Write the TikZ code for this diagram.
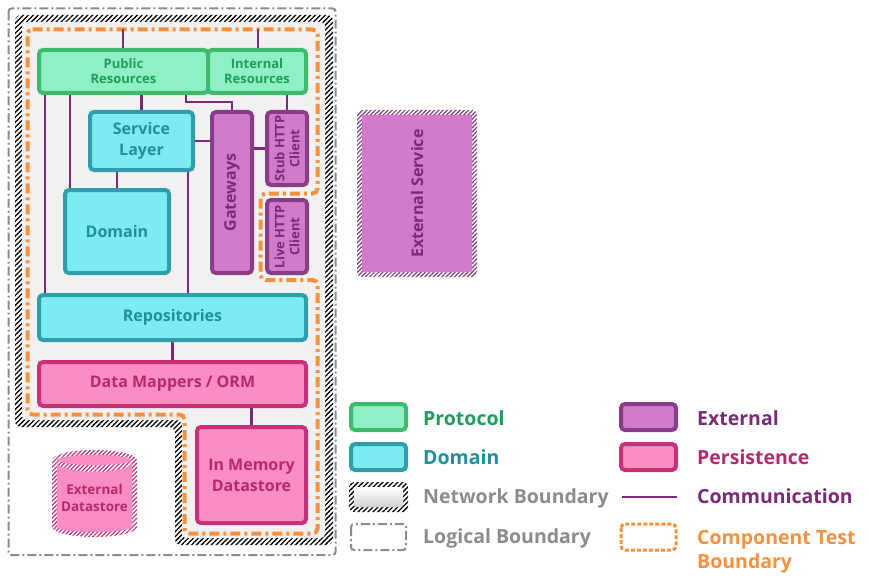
\documentclass[tikz,border=0pt]{standalone}
\usepackage{fontspec}
\setmainfont{Open Sans}
\usetikzlibrary{patterns.meta,backgrounds}

\definecolor{protofill}{HTML}{8FF0C6}
\definecolor{protoline}{HTML}{3DBA6C}
\definecolor{prototext}{HTML}{1E9E5A}
\definecolor{domfill}{HTML}{7DEBF2}
\definecolor{domline}{HTML}{2E9FAA}
\definecolor{domtext}{HTML}{1D919C}
\definecolor{extfill}{HTML}{D27BCB}
\definecolor{extline}{HTML}{8A3D87}
\definecolor{exttext}{HTML}{7A2B78}
\definecolor{perfill}{HTML}{FA8DC1}
\definecolor{perline}{HTML}{C7307B}
\definecolor{pertext}{HTML}{B8286F}
\definecolor{commline}{HTML}{7B2A79}
\definecolor{ctbline}{HTML}{F8903C}
\definecolor{logline}{HTML}{8C8C8C}
\definecolor{netfill}{HTML}{F1F1F1}

\begin{document}
\begin{tikzpicture}
[x=1pt,y=-1pt,%
  box/.style={draw,line width=4pt,rounded corners=4pt,inner sep=0pt,align=center},%
  big/.style={font=\bfseries\fontsize{16}{21}\selectfont},%
  small/.style={font=\bfseries\fontsize{13}{15}\selectfont},%
  proto/.style={box,draw=protoline,fill=protofill,text=prototext},%
  dom/.style={box,draw=domline,fill=domfill,text=domtext},%
  ext/.style={box,draw=extline,fill=extfill,text=exttext},%
  pers/.style={box,draw=perline,fill=perfill,text=pertext},%
  comm/.style={draw=commline,line width=2.5pt},%
  ctb/.style={draw=ctbline,line width=4pt,rounded corners=5pt,dash pattern=on 10pt off 4pt on 3pt off 4pt},%
  logb/.style={draw=logline,line width=2pt,rounded corners=3pt,dash pattern=on 9pt off 3pt on 2pt off 3pt},%
  netband/.style={even odd rule,preaction={fill=white},pattern={Lines[angle=45,distance=3.5pt,line width=1.3pt]},pattern color=black},%
  extband/.style={even odd rule,preaction={fill=white},pattern={Lines[angle=45,distance=3pt,line width=1.2pt]},pattern color=extline},%
  perband/.style={even odd rule,preaction={fill=white},pattern={Lines[angle=45,distance=3pt,line width=1.2pt]},pattern color=perline},%
  lgtext/.style={anchor=base west,inner sep=0pt,align=left,font=\bfseries\fontsize{19.5}{24}\selectfont}]
\useasboundingbox (0,0) rectangle (869,583);

% components
\node[proto,small,minimum width=169pt,minimum height=43pt] (pub) at (123.5,71.5) {Public\\Resources};
\node[proto,small,minimum width=98pt,minimum height=43pt] (int) at (257,71.5) {Internal\\Resources};
\node[dom,big,minimum width=103pt,minimum height=58pt] (svc) at (141.5,141) {Service\\Layer};
\node[dom,big,minimum width=104pt,minimum height=83pt] (dom) at (117,231.5) {Domain};
\node[ext,minimum width=40pt,minimum height=161pt] (gw) at (232,192.5) {};
\node[ext,minimum width=40pt,minimum height=73pt] (stub) at (287,148.5) {};
\node[ext,minimum width=40pt,minimum height=73pt] (live) at (287,236.5) {};
\node[big,rotate=90,text=exttext,inner sep=0pt] (gwlbl) at (gw.center) {Gateways};
\node[small,rotate=90,text=exttext,inner sep=0pt,align=center] (stublbl) at (stub.center) {Stub HTTP\\Client};
\node[small,rotate=90,text=exttext,inner sep=0pt,align=center] (livelbl) at (live.center) {Live HTTP\\Client};
\node[dom,big,minimum width=267pt,minimum height=45pt] (repo) at (172.5,317.5) {Repositories};
\node[pers,big,minimum width=267pt,minimum height=44pt] (dm) at (172.5,384) {Data Mappers / ORM};
\node[pers,big,minimum width=109pt,minimum height=96pt] (mem) at (251.5,475) {In Memory\\Datastore};
\node[fill=extfill,rounded corners=2pt,minimum width=110pt,minimum height=157pt] (exsvc) at (417,193.5) {};
\node[big,rotate=90,text=exttext,inner sep=0pt] (exsvclbl) at (exsvc.center) {External Service};

% legend
\node[proto,minimum width=55pt,minimum height=26pt] (lgproto) at (378.5,417) {};
\node[dom,minimum width=55pt,minimum height=26pt] (lgdom) at (378.5,457) {};
\node[ext,minimum width=55pt,minimum height=26pt] (lgext) at (648.5,417) {};
\node[pers,minimum width=55pt,minimum height=26pt] (lgpers) at (648.5,457) {};
\node[lgtext,text=prototext] (lgprototxt) at (423,425) {Protocol};
\node[lgtext,text=domtext] (lgdomtxt) at (423,464) {Domain};
\node[lgtext,text=logline] (lgnettxt) at (423,503) {Network Boundary};
\node[lgtext,text=logline] (lglogtxt) at (423,543) {Logical Boundary};
\node[lgtext,text=exttext] (lgexttxt) at (697,425) {External};
\node[lgtext,text=pertext] (lgperstxt) at (697,464) {Persistence};
\node[lgtext,text=exttext] (lgcommtxt) at (697,503) {Communication};
\node[lgtext,text=ctbline] (lgctbtxt) at (697,568) {Component Test\\Boundary};
\coordinate (lgcomma) at (622,497);
\coordinate (lgcommb) at (677,497);

\begin{scope}[on background layer]
% boundaries
\draw[logb] (8.5,8.5) rectangle (335.5,555);
\fill[netband,rounded corners=6pt]
  (15,15) -- (333,15) -- (333,545) -- (175,545) -- (175,427) -- (15,427) -- cycle
  (22,22) -- (325,22) -- (325,538) -- (182,538) -- (182,420) -- (22,420) -- cycle;
\fill[netfill,rounded corners=4pt]
  (22,22) -- (325,22) -- (325,538) -- (182,538) -- (182,420) -- (22,420) -- cycle;
\draw[ctb] (27.5,29.5) -- (317.5,29.5) -- (317.5,193.5) -- (260.5,193.5) -- (260.5,280)
  -- (317.5,280) -- (317.5,533.5) -- (184.5,533.5) -- (184.5,414.5) -- (27.5,414.5) -- cycle;
\fill[extband,rounded corners=5pt] (357,110) rectangle (477,277) (362,115) rectangle (472,272);
% external datastore
\fill[perband] (52,460) arc[start angle=180,end angle=360,x radius=42.5,y radius=10]
  -- (137,527) arc[start angle=0,end angle=180,x radius=42.5,y radius=10] -- cycle;
\fill[perfill] (94.5,460) ellipse[x radius=37.5,y radius=5];
\fill[perfill] (57,462) arc[start angle=180,end angle=0,x radius=37.5,y radius=10]
  -- (132,527) arc[start angle=0,end angle=180,x radius=37.5,y radius=5] -- cycle;
% communication
\coordinate (pubin) at (123,29.5);
\coordinate (intin) at (258,29.5);
\draw[comm] (pubin) -- (pubin |- pub.north);
\draw[comm] (intin) -- (intin |- int.north);
\draw[comm] (svc.north) -- (svc.north |- pub.south);
\draw[comm] ([xshift=62.5pt]pub.south) -- ++(0,7) -| (gw.north);
\draw[comm] (stub.north) -- (stub.north |- int.south);
\draw[comm] ([xshift=8pt]pub.south west) -- ([xshift=8pt]pub.south west |- repo.north);
\draw[comm] ([xshift=7pt]dom.north west) -- ([xshift=7pt]dom.north west |- pub.south);
\draw[comm] (dom.north) -- (dom.north |- svc.south);
\draw[comm] ([xshift=-7pt]svc.south east) -- ([xshift=-7pt]svc.south east |- repo.north);
\draw[comm] (svc.east) -- (svc.east -| gw.west);
\draw[comm] (stub.west) -- (stub.west -| gw.east);
\draw[comm] (repo.south) -- (repo.south |- dm.north);
\draw[comm] (mem.north) -- (mem.north |- dm.south);
% legend samples
\fill[netband,rounded corners=5pt] (349,482) rectangle (408,512) (354,487) rectangle (403,507);
\shade[top color=white,bottom color=black!18,rounded corners=2pt] (354,487) rectangle (403,507);
\draw[logb] (351,524) rectangle (406,550);
\draw[comm] (lgcomma) -- (lgcommb);
\draw[draw=ctbline,line width=3pt,rounded corners=4pt,dash pattern=on 4pt off 2pt] (621,524) rectangle (676,550);
\end{scope}
\node[small,text=pertext,inner sep=0pt,align=center,font=\bfseries\fontsize{13.5}{17}\selectfont] (exds) at (94.5,498) {External\\Datastore};
\end{tikzpicture}
\end{document}
